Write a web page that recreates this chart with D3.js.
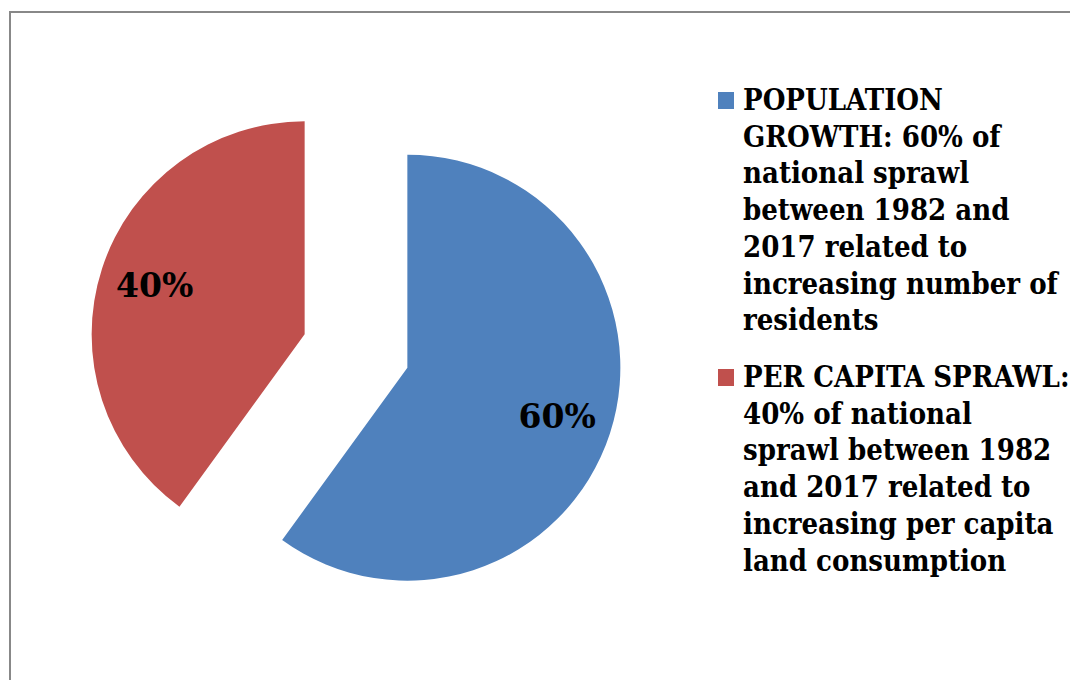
<!DOCTYPE html>
<html>
<head>
<meta charset="utf-8">
<script src="https://cdn.jsdelivr.net/npm/d3@7"></script>
<style>
  html, body { margin: 0; padding: 0; background: #fff; }
  svg { display: block; }
  .lbl { font-family: "DejaVu Serif", serif; font-weight: bold; }
  .legend-text { font-stretch: condensed; }
</style>
</head>
<body>
<svg id="chart" width="1070" height="680"></svg>
<script>
// Share of national sprawl, 1982–2017
const categories = ["POPULATION GROWTH", "PER CAPITA SPRAWL"];
const values = [60, 40];
const sliceLabels = ["60%", "40%"];
const colors = ["#4F81BD", "#C0504D"];
const legendLines = [
  ["POPULATION", "GROWTH: 60% of", "national sprawl", "between 1982 and", "2017 related to", "increasing number of", "residents"],
  ["PER CAPITA SPRAWL:", "40% of national", "sprawl between 1982", "and 2017 related to", "increasing per capita", "land consumption"]
];

const svg = d3.select("#chart");

// chart frame
svg.append("path")
  .attr("d", "M10,690 V12 H1080")
  .attr("fill", "none")
  .attr("stroke", "#888")
  .attr("stroke-width", 2);

const cx = 356, cy = 351, radius = 213, explode = 54;

const pie = d3.pie().sort(null).value(d => d)
  .startAngle(0).endAngle(2 * Math.PI);
const arcs = pie(values);
const arc = d3.arc().innerRadius(0).outerRadius(radius);
const labelArc = d3.arc().innerRadius(radius * 0.74).outerRadius(radius * 0.74);

const g = svg.append("g").attr("transform", `translate(${cx},${cy})`);

const slice = g.selectAll("g.slice").data(arcs).enter().append("g")
  .attr("class", "slice")
  .attr("transform", d => {
    const mid = (d.startAngle + d.endAngle) / 2;
    return `translate(${explode * Math.sin(mid)},${-explode * Math.cos(mid)})`;
  });

slice.append("path")
  .attr("d", arc)
  .attr("fill", (d, i) => colors[i]);

slice.append("text")
  .attr("class", "lbl")
  .attr("transform", d => {
    const [x, y] = labelArc.centroid(d);
    return `translate(${x},${y})`;
  })
  .attr("text-anchor", "middle")
  .attr("dy", "0.36em")
  .attr("font-size", 33)
  .attr("fill", "#000")
  .text((d, i) => sliceLabels[i]);

// legend
const legendX = 718, lineH = 36.7;
const firstBaselines = [110, 387];
categories.forEach((c, i) => {
  const lg = svg.append("g").attr("class", "legend-item");
  lg.append("rect")
    .attr("x", legendX).attr("y", firstBaselines[i] - 18)
    .attr("width", 16).attr("height", 17)
    .attr("fill", colors[i]);
  const t = lg.append("text")
    .attr("class", "lbl legend-text")
    .attr("x", legendX + 25)
    .attr("y", firstBaselines[i])
    .attr("font-size", 29)
    .attr("fill", "#000");
  legendLines[i].forEach((line, j) => {
    t.append("tspan")
      .attr("x", legendX + 25)
      .attr("y", firstBaselines[i] + j * lineH)
      .text(line);
  });
});
</script>
</body>
</html>
